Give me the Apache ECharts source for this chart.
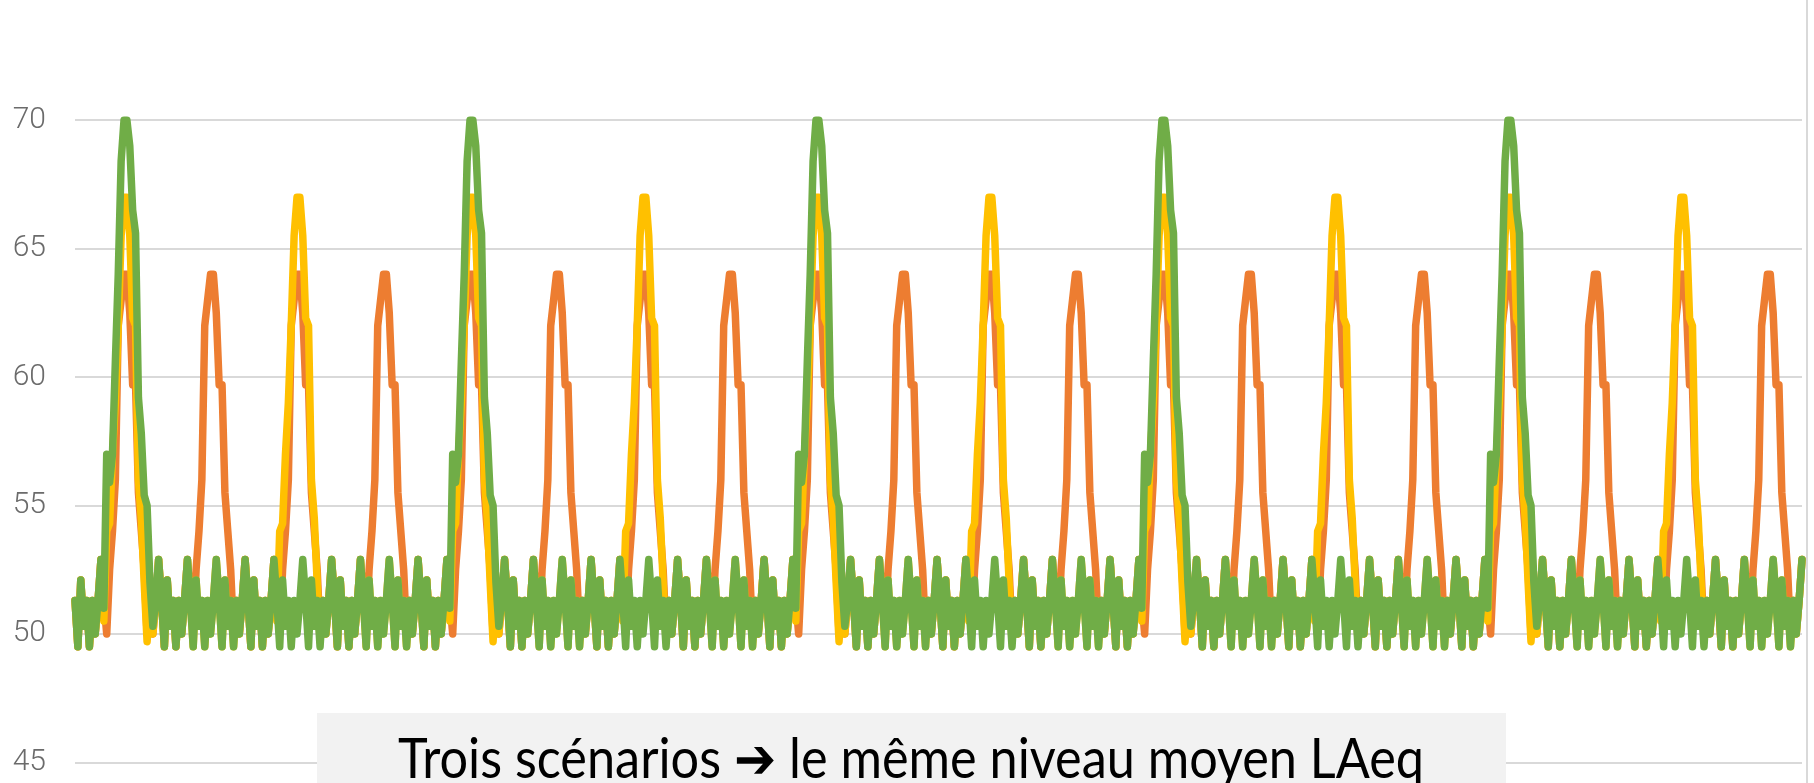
<!DOCTYPE html>
<html>
<head>
<meta charset="utf-8">
<script src="https://cdn.jsdelivr.net/npm/echarts@6/dist/echarts.min.js"></script>
<style>
  html, body { margin: 0; padding: 0; background: #fff; overflow: hidden; }
  /* chart is 40px taller and pulled up so the 75 line sits just above the top edge */
  #chart { width: 1814px; height: 823px; margin-top: -40px; }
</style>
</head>
<body>
<div id="chart"></div>
<script>
// LAeq (dB) sampled once per second, 600 samples, three scenarios
const orangeValues = [
  51.3,49.5,52.1,50.3,51.3,49.5,51.3,50,51.3,52.9,51.3,50,52.5,54,56,62,63,64,64,62.5,59.7,59.7,55.5,54,52.5,50,51.3,50,51.3,52.9,
  51.3,49.5,52.1,50.3,51.3,49.5,51.3,50,51.3,52.9,51.3,50,52.5,54,56,62,63,64,64,62.5,59.7,59.7,55.5,54,52.5,50,51.3,50,51.3,52.9,
  51.3,49.5,52.1,50.3,51.3,49.5,51.3,50,51.3,52.9,51.3,50,52.5,54,56,62,63,64,64,62.5,59.7,59.7,55.5,54,52.5,50,51.3,50,51.3,52.9,
  51.3,49.5,52.1,50.3,51.3,49.5,51.3,50,51.3,52.9,51.3,50,52.5,54,56,62,63,64,64,62.5,59.7,59.7,55.5,54,52.5,50,51.3,50,51.3,52.9,
  51.3,49.5,52.1,50.3,51.3,49.5,51.3,50,51.3,52.9,51.3,50,52.5,54,56,62,63,64,64,62.5,59.7,59.7,55.5,54,52.5,50,51.3,50,51.3,52.9,
  51.3,49.5,52.1,50.3,51.3,49.5,51.3,50,51.3,52.9,51.3,50,52.5,54,56,62,63,64,64,62.5,59.7,59.7,55.5,54,52.5,50,51.3,50,51.3,52.9,
  51.3,49.5,52.1,50.3,51.3,49.5,51.3,50,51.3,52.9,51.3,50,52.5,54,56,62,63,64,64,62.5,59.7,59.7,55.5,54,52.5,50,51.3,50,51.3,52.9,
  51.3,49.5,52.1,50.3,51.3,49.5,51.3,50,51.3,52.9,51.3,50,52.5,54,56,62,63,64,64,62.5,59.7,59.7,55.5,54,52.5,50,51.3,50,51.3,52.9,
  51.3,49.5,52.1,50.3,51.3,49.5,51.3,50,51.3,52.9,51.3,50,52.5,54,56,62,63,64,64,62.5,59.7,59.7,55.5,54,52.5,50,51.3,50,51.3,52.9,
  51.3,49.5,52.1,50.3,51.3,49.5,51.3,50,51.3,52.9,51.3,50,52.5,54,56,62,63,64,64,62.5,59.7,59.7,55.5,54,52.5,50,51.3,50,51.3,52.9,
  51.3,49.5,52.1,50.3,51.3,49.5,51.3,50,51.3,52.9,51.3,50,52.5,54,56,62,63,64,64,62.5,59.7,59.7,55.5,54,52.5,50,51.3,50,51.3,52.9,
  51.3,49.5,52.1,50.3,51.3,49.5,51.3,50,51.3,52.9,51.3,50,52.5,54,56,62,63,64,64,62.5,59.7,59.7,55.5,54,52.5,50,51.3,50,51.3,52.9,
  51.3,49.5,52.1,50.3,51.3,49.5,51.3,50,51.3,52.9,51.3,50,52.5,54,56,62,63,64,64,62.5,59.7,59.7,55.5,54,52.5,50,51.3,50,51.3,52.9,
  51.3,49.5,52.1,50.3,51.3,49.5,51.3,50,51.3,52.9,51.3,50,52.5,54,56,62,63,64,64,62.5,59.7,59.7,55.5,54,52.5,50,51.3,50,51.3,52.9,
  51.3,49.5,52.1,50.3,51.3,49.5,51.3,50,51.3,52.9,51.3,50,52.5,54,56,62,63,64,64,62.5,59.7,59.7,55.5,54,52.5,50,51.3,50,51.3,52.9,
  51.3,49.5,52.1,50.3,51.3,49.5,51.3,50,51.3,52.9,51.3,50,52.5,54,56,62,63,64,64,62.5,59.7,59.7,55.5,54,52.5,50,51.3,50,51.3,52.9,
  51.3,49.5,52.1,50.3,51.3,49.5,51.3,50,51.3,52.9,51.3,50,52.5,54,56,62,63,64,64,62.5,59.7,59.7,55.5,54,52.5,50,51.3,50,51.3,52.9,
  51.3,49.5,52.1,50.3,51.3,49.5,51.3,50,51.3,52.9,51.3,50,52.5,54,56,62,63,64,64,62.5,59.7,59.7,55.5,54,52.5,50,51.3,50,51.3,52.9,
  51.3,49.5,52.1,50.3,51.3,49.5,51.3,50,51.3,52.9,51.3,50,52.5,54,56,62,63,64,64,62.5,59.7,59.7,55.5,54,52.5,50,51.3,50,51.3,52.9,
  51.3,49.5,52.1,50.3,51.3,49.5,51.3,50,51.3,52.9,51.3,50,52.5,54,56,62,63,64,64,62.5,59.7,59.7,55.5,54,52.5,50,51.3,50,51.3,52.9
];

const yellowValues = [
  51.3,49.5,52.1,50.3,51.3,49.5,51.3,50,51.3,52.9,50.5,54,54.3,57,59,62,65.5,67,67,65.5,62.3,62,56,54.5,52,49.7,51.3,50,51.3,52.9,
  51.3,49.5,52.1,50.3,51.3,49.5,51.3,50,51.3,52.9,51.3,49.5,52.1,50.3,51.3,49.5,51.3,50,51.3,52.9,51.3,49.5,52.1,50.3,51.3,49.5,51.3,50,51.3,52.9,
  51.3,49.5,52.1,50.3,51.3,49.5,51.3,50,51.3,52.9,50.5,54,54.3,57,59,62,65.5,67,67,65.5,62.3,62,56,54.5,52,49.7,51.3,50,51.3,52.9,
  51.3,49.5,52.1,50.3,51.3,49.5,51.3,50,51.3,52.9,51.3,49.5,52.1,50.3,51.3,49.5,51.3,50,51.3,52.9,51.3,49.5,52.1,50.3,51.3,49.5,51.3,50,51.3,52.9,
  51.3,49.5,52.1,50.3,51.3,49.5,51.3,50,51.3,52.9,50.5,54,54.3,57,59,62,65.5,67,67,65.5,62.3,62,56,54.5,52,49.7,51.3,50,51.3,52.9,
  51.3,49.5,52.1,50.3,51.3,49.5,51.3,50,51.3,52.9,51.3,49.5,52.1,50.3,51.3,49.5,51.3,50,51.3,52.9,51.3,49.5,52.1,50.3,51.3,49.5,51.3,50,51.3,52.9,
  51.3,49.5,52.1,50.3,51.3,49.5,51.3,50,51.3,52.9,50.5,54,54.3,57,59,62,65.5,67,67,65.5,62.3,62,56,54.5,52,49.7,51.3,50,51.3,52.9,
  51.3,49.5,52.1,50.3,51.3,49.5,51.3,50,51.3,52.9,51.3,49.5,52.1,50.3,51.3,49.5,51.3,50,51.3,52.9,51.3,49.5,52.1,50.3,51.3,49.5,51.3,50,51.3,52.9,
  51.3,49.5,52.1,50.3,51.3,49.5,51.3,50,51.3,52.9,50.5,54,54.3,57,59,62,65.5,67,67,65.5,62.3,62,56,54.5,52,49.7,51.3,50,51.3,52.9,
  51.3,49.5,52.1,50.3,51.3,49.5,51.3,50,51.3,52.9,51.3,49.5,52.1,50.3,51.3,49.5,51.3,50,51.3,52.9,51.3,49.5,52.1,50.3,51.3,49.5,51.3,50,51.3,52.9,
  51.3,49.5,52.1,50.3,51.3,49.5,51.3,50,51.3,52.9,50.5,54,54.3,57,59,62,65.5,67,67,65.5,62.3,62,56,54.5,52,49.7,51.3,50,51.3,52.9,
  51.3,49.5,52.1,50.3,51.3,49.5,51.3,50,51.3,52.9,51.3,49.5,52.1,50.3,51.3,49.5,51.3,50,51.3,52.9,51.3,49.5,52.1,50.3,51.3,49.5,51.3,50,51.3,52.9,
  51.3,49.5,52.1,50.3,51.3,49.5,51.3,50,51.3,52.9,50.5,54,54.3,57,59,62,65.5,67,67,65.5,62.3,62,56,54.5,52,49.7,51.3,50,51.3,52.9,
  51.3,49.5,52.1,50.3,51.3,49.5,51.3,50,51.3,52.9,51.3,49.5,52.1,50.3,51.3,49.5,51.3,50,51.3,52.9,51.3,49.5,52.1,50.3,51.3,49.5,51.3,50,51.3,52.9,
  51.3,49.5,52.1,50.3,51.3,49.5,51.3,50,51.3,52.9,50.5,54,54.3,57,59,62,65.5,67,67,65.5,62.3,62,56,54.5,52,49.7,51.3,50,51.3,52.9,
  51.3,49.5,52.1,50.3,51.3,49.5,51.3,50,51.3,52.9,51.3,49.5,52.1,50.3,51.3,49.5,51.3,50,51.3,52.9,51.3,49.5,52.1,50.3,51.3,49.5,51.3,50,51.3,52.9,
  51.3,49.5,52.1,50.3,51.3,49.5,51.3,50,51.3,52.9,50.5,54,54.3,57,59,62,65.5,67,67,65.5,62.3,62,56,54.5,52,49.7,51.3,50,51.3,52.9,
  51.3,49.5,52.1,50.3,51.3,49.5,51.3,50,51.3,52.9,51.3,49.5,52.1,50.3,51.3,49.5,51.3,50,51.3,52.9,51.3,49.5,52.1,50.3,51.3,49.5,51.3,50,51.3,52.9,
  51.3,49.5,52.1,50.3,51.3,49.5,51.3,50,51.3,52.9,50.5,54,54.3,57,59,62,65.5,67,67,65.5,62.3,62,56,54.5,52,49.7,51.3,50,51.3,52.9,
  51.3,49.5,52.1,50.3,51.3,49.5,51.3,50,51.3,52.9,51.3,49.5,52.1,50.3,51.3,49.5,51.3,50,51.3,52.9,51.3,49.5,52.1,50.3,51.3,49.5,51.3,50,51.3,52.9
];

const greenValues = [
  51.3,49.5,52.1,50.3,51.3,49.5,51.3,50,51.3,52.9,51,57,55.9,57,60.6,64,68.4,70,70,69,66.5,65.6,59.2,57.8,55.4,55,52,50.3,51.3,52.9,
  51.3,49.5,52.1,50.3,51.3,49.5,51.3,50,51.3,52.9,51.3,49.5,52.1,50.3,51.3,49.5,51.3,50,51.3,52.9,51.3,49.5,52.1,50.3,51.3,49.5,51.3,50,51.3,52.9,
  51.3,49.5,52.1,50.3,51.3,49.5,51.3,50,51.3,52.9,51.3,49.5,52.1,50.3,51.3,49.5,51.3,50,51.3,52.9,51.3,49.5,52.1,50.3,51.3,49.5,51.3,50,51.3,52.9,
  51.3,49.5,52.1,50.3,51.3,49.5,51.3,50,51.3,52.9,51.3,49.5,52.1,50.3,51.3,49.5,51.3,50,51.3,52.9,51.3,49.5,52.1,50.3,51.3,49.5,51.3,50,51.3,52.9,
  51.3,49.5,52.1,50.3,51.3,49.5,51.3,50,51.3,52.9,51,57,55.9,57,60.6,64,68.4,70,70,69,66.5,65.6,59.2,57.8,55.4,55,52,50.3,51.3,52.9,
  51.3,49.5,52.1,50.3,51.3,49.5,51.3,50,51.3,52.9,51.3,49.5,52.1,50.3,51.3,49.5,51.3,50,51.3,52.9,51.3,49.5,52.1,50.3,51.3,49.5,51.3,50,51.3,52.9,
  51.3,49.5,52.1,50.3,51.3,49.5,51.3,50,51.3,52.9,51.3,49.5,52.1,50.3,51.3,49.5,51.3,50,51.3,52.9,51.3,49.5,52.1,50.3,51.3,49.5,51.3,50,51.3,52.9,
  51.3,49.5,52.1,50.3,51.3,49.5,51.3,50,51.3,52.9,51.3,49.5,52.1,50.3,51.3,49.5,51.3,50,51.3,52.9,51.3,49.5,52.1,50.3,51.3,49.5,51.3,50,51.3,52.9,
  51.3,49.5,52.1,50.3,51.3,49.5,51.3,50,51.3,52.9,51,57,55.9,57,60.6,64,68.4,70,70,69,66.5,65.6,59.2,57.8,55.4,55,52,50.3,51.3,52.9,
  51.3,49.5,52.1,50.3,51.3,49.5,51.3,50,51.3,52.9,51.3,49.5,52.1,50.3,51.3,49.5,51.3,50,51.3,52.9,51.3,49.5,52.1,50.3,51.3,49.5,51.3,50,51.3,52.9,
  51.3,49.5,52.1,50.3,51.3,49.5,51.3,50,51.3,52.9,51.3,49.5,52.1,50.3,51.3,49.5,51.3,50,51.3,52.9,51.3,49.5,52.1,50.3,51.3,49.5,51.3,50,51.3,52.9,
  51.3,49.5,52.1,50.3,51.3,49.5,51.3,50,51.3,52.9,51.3,49.5,52.1,50.3,51.3,49.5,51.3,50,51.3,52.9,51.3,49.5,52.1,50.3,51.3,49.5,51.3,50,51.3,52.9,
  51.3,49.5,52.1,50.3,51.3,49.5,51.3,50,51.3,52.9,51,57,55.9,57,60.6,64,68.4,70,70,69,66.5,65.6,59.2,57.8,55.4,55,52,50.3,51.3,52.9,
  51.3,49.5,52.1,50.3,51.3,49.5,51.3,50,51.3,52.9,51.3,49.5,52.1,50.3,51.3,49.5,51.3,50,51.3,52.9,51.3,49.5,52.1,50.3,51.3,49.5,51.3,50,51.3,52.9,
  51.3,49.5,52.1,50.3,51.3,49.5,51.3,50,51.3,52.9,51.3,49.5,52.1,50.3,51.3,49.5,51.3,50,51.3,52.9,51.3,49.5,52.1,50.3,51.3,49.5,51.3,50,51.3,52.9,
  51.3,49.5,52.1,50.3,51.3,49.5,51.3,50,51.3,52.9,51.3,49.5,52.1,50.3,51.3,49.5,51.3,50,51.3,52.9,51.3,49.5,52.1,50.3,51.3,49.5,51.3,50,51.3,52.9,
  51.3,49.5,52.1,50.3,51.3,49.5,51.3,50,51.3,52.9,51,57,55.9,57,60.6,64,68.4,70,70,69,66.5,65.6,59.2,57.8,55.4,55,52,50.3,51.3,52.9,
  51.3,49.5,52.1,50.3,51.3,49.5,51.3,50,51.3,52.9,51.3,49.5,52.1,50.3,51.3,49.5,51.3,50,51.3,52.9,51.3,49.5,52.1,50.3,51.3,49.5,51.3,50,51.3,52.9,
  51.3,49.5,52.1,50.3,51.3,49.5,51.3,50,51.3,52.9,51.3,49.5,52.1,50.3,51.3,49.5,51.3,50,51.3,52.9,51.3,49.5,52.1,50.3,51.3,49.5,51.3,50,51.3,52.9,
  51.3,49.5,52.1,50.3,51.3,49.5,51.3,50,51.3,52.9,51.3,49.5,52.1,50.3,51.3,49.5,51.3,50,51.3,52.9,51.3,49.5,52.1,50.3,51.3,49.5,51.3,50,51.3,52.9
];

const yTicks = { min: 45, max: 75, step: 5 };
const caption = 'Trois scénarios ➔ le même niveau moyen LAeq';

const SHIFT = 40; // page offset of the chart div (see css)
const chart = echarts.init(document.getElementById('chart'));

function lineSeries(name, color, values) {
  return {
    name: name,
    type: 'line',
    data: values,
    showSymbol: false,
    symbol: 'none',
    silent: true,
    lineStyle: { color: color, width: 7.5, join: 'round', cap: 'round' },
    itemStyle: { color: color }
  };
}

const option = {
  backgroundColor: '#ffffff',
  animation: false,
  grid: { left: 75, right: 12, top: SHIFT - 8.2, bottom: 20.6 },
  xAxis: {
    type: 'category',
    boundaryGap: false,
    axisLine: { show: false },
    axisTick: { show: false },
    axisLabel: { show: false },
    splitLine: { show: false }
  },
  yAxis: {
    type: 'value',
    min: yTicks.min,
    max: yTicks.max,
    interval: yTicks.step,
    axisLine: { show: false },
    axisTick: { show: false },
    axisLabel: {
      color: '#6b6b6b',
      fontSize: 30,
      fontFamily: 'Roboto',
      fontWeight: 300,
      margin: 29
    },
    splitLine: { lineStyle: { color: '#d9d9d9', width: 2 } }
  },
  series: [
    lineSeries('Scénario 1', '#ED7D31', orangeValues),
    lineSeries('Scénario 2', '#FFC000', yellowValues),
    lineSeries('Scénario 3', '#70AD47', greenValues)
  ],
  graphic: [
    {
      type: 'line',
      shape: { x1: 1807, y1: 0, x2: 1807, y2: 783 + SHIFT },
      style: { stroke: '#d9d9d9', lineWidth: 2 },
      z: 10
    },
    {
      type: 'rect',
      shape: { x: 317, y: 713 + SHIFT, width: 1189, height: 80 },
      style: { fill: '#f2f2f2' },
      z: 20
    },
    {
      type: 'text',
      x: 911,
      y: 760 + SHIFT,
      scaleX: 0.9,
      style: {
        text: caption,
        fill: '#000000',
        font: '56px Lato, "Noto Sans", sans-serif',
        align: 'center',
        verticalAlign: 'middle'
      },
      z: 21
    }
  ]
};

chart.setOption(option);
</script>
</body>
</html>
